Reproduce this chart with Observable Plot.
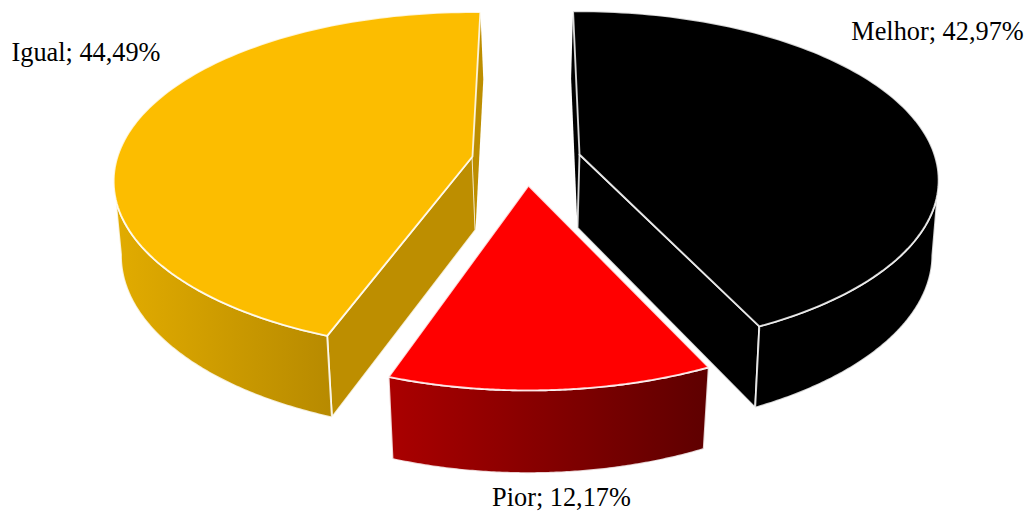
<!DOCTYPE html>
<html>
<head>
<meta charset="utf-8">
<style>
  html, body { margin: 0; padding: 0; background: #fff; }
  svg { display: block; }
</style>
<script src="https://cdn.jsdelivr.net/npm/d3@7"></script>
<script src="https://cdn.jsdelivr.net/npm/@observablehq/plot@0.6"></script>
</head>
<body>
<script>
// Survey shares drawn as an exploded 3D pie.
const categories = ["Melhor", "Pior", "Igual"];
const shares = [42.97, 12.17, 44.49];

// Slice layout: first edge in degrees clockwise from the back of the pie, hub position on the top face.
const firstEdge = [-1.2, 155, 200.7];
const hubX = [579, 528, 472];
const hubY = [154, 185, 156];
const bottomShift = [-2, 0, 3];
const bottomScaleX = [0.988, 0.972, 0.988];
const radiusX = [355, 355, 355];
const radiusY = [165, 167, 165.5];
const foreshorten = [0.152, 0.185, 0.146];
// Angular span of the curved wall that shows in front of the top face.
const wallFrom = [99, null, null];
const wallTo = [null, null, 262];

// Where each label's centre sits.
const labelX = [937, 561, 85.5];
const labelY = [31, 497.5, 52];

// Colours of the top face, the flat cut faces and the curved wall.
const topColors = ["#000000", "#ff0000", "#fcbd00"];
const cutColors = ["#000000", "#600000", "#bd8e00"];
const wallColors = ["#000000", "url(#wall-red)", "url(#wall-gold)"];

const edge = { stroke: "#fff", strokeOpacity: 0.82, strokeWidth: 1.9, strokeLinejoin: "round" };
const DROP = 73.5, BOTTOM_Y = 1.045;
const total = d3.sum(shares);
const comma = d3.format(".2f");

// Perspective view of a point on the rim (or the hub when onRim is false), top or bottom face.
function place(i, degrees, bottom = false, onRim = true) {
  const t = degrees * Math.PI / 180;
  const u = onRim ? Math.sin(t) : 0;
  const v = onRim ? -Math.cos(t) : 0;
  const d = 1 - foreshorten[i] * v;
  const x = hubX[i] + (bottom ? bottomShift[i] : 0) + radiusX[i] * (bottom ? bottomScaleX[i] : 1) * u / d;
  const y = hubY[i] + (bottom ? DROP : 0) + radiusY[i] * (bottom ? BOTTOM_Y : 1) * v / d;
  return [x, y];
}

function rim(i, from, to, bottom) {
  return d3.range(0, 121).map(k => place(i, from + (to - from) * k / 120, bottom));
}

const face = (pts, fill, outlined = true) => Plot.line([...pts, pts[0]], {
  x: d => d[0], y: d => d[1], fill, curve: "linear", ...(outlined ? edge : { stroke: "none" })
});

const sliceMarks = [2, 0, 1].flatMap(i => {
  const a = firstEdge[i];
  const b = a + shares[i] / total * 360;
  const hubTop = place(i, 0, false, false);
  const hubBottom = place(i, 0, true, false);
  const from = wallFrom[i] ?? a;
  const to = wallTo[i] ?? b;
  // A cut face turned towards the back of the pie shows only as an unoutlined sliver.
  const cut = angle => face(
    [place(i, angle), hubTop, hubBottom, place(i, angle, true)],
    cutColors[i],
    Math.cos(angle * Math.PI / 180) < 0
  );
  return [
    cut(a),
    cut(b),
    face([...rim(i, from, to, false), ...rim(i, from, to, true).reverse()], wallColors[i]),
    face([hubTop, ...rim(i, a, b, false)], topColors[i])
  ];
});

const gradients = () => {
  const defs = d3.create("svg:defs");
  defs.html(`
    <linearGradient id="wall-gold" x1="0" x2="1" y1="0" y2="0">
      <stop offset="0" stop-color="#e2ac00"/><stop offset="1" stop-color="#b78a00"/>
    </linearGradient>
    <linearGradient id="wall-red" x1="0" x2="1" y1="0" y2="0">
      <stop offset="0" stop-color="#aa0000"/><stop offset="1" stop-color="#5e0000"/>
    </linearGradient>`);
  return defs.node();
};

const chart = Plot.plot({
  width: 1028,
  height: 512,
  margin: 0,
  style: { background: "#fff" },
  x: { domain: [0, 1028], range: [0, 1028], axis: null },
  y: { domain: [0, 512], range: [0, 512], axis: null },
  marks: [
    gradients,
    ...sliceMarks,
    Plot.text(categories, {
      x: (d, i) => labelX[i],
      y: (d, i) => labelY[i],
      text: (d, i) => `${d}; ${comma(shares[i]).replace(".", ",")}%`,
      fontFamily: "Liberation Serif",
      fontSize: 26.3,
      fill: "#000"
    })
  ]
});
document.body.append(chart);
</script>
</body>
</html>
